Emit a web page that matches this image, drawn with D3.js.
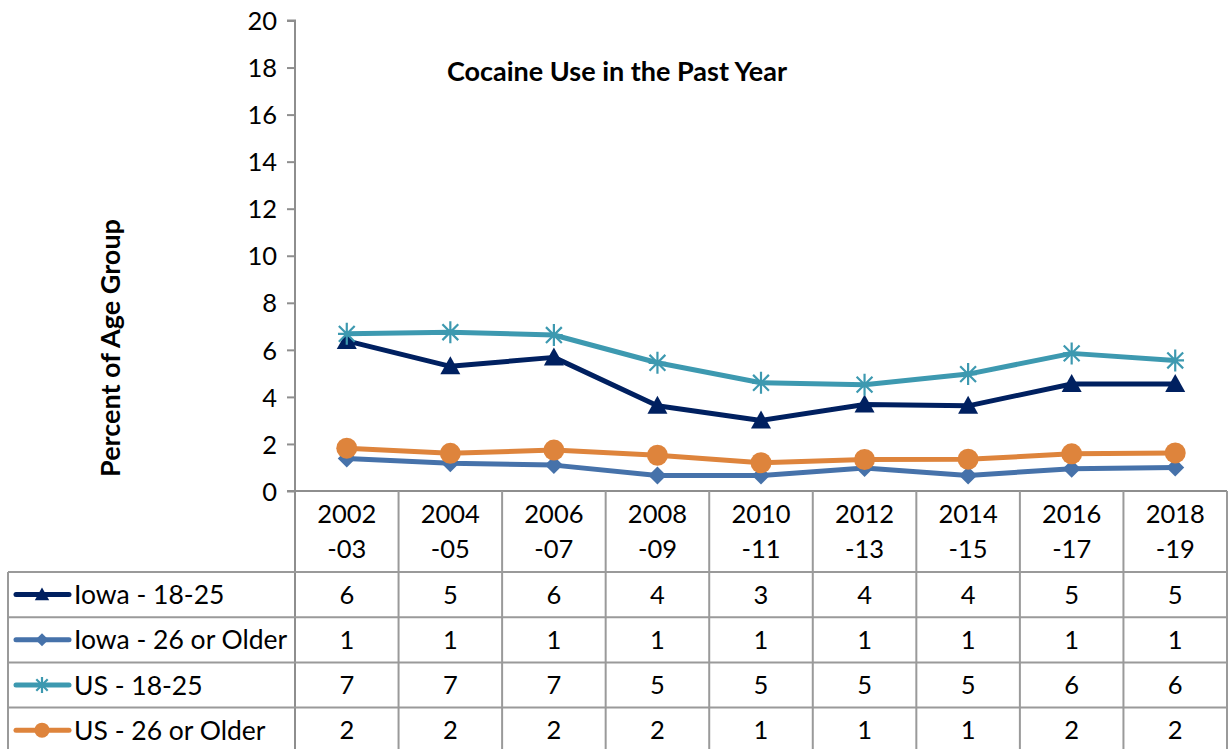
<!DOCTYPE html>
<html>
<head>
<meta charset="utf-8">
<script src="https://cdn.jsdelivr.net/npm/d3@7"></script>
<style>
  html, body { margin: 0; padding: 0; background: #fff; }
  svg { display: block; }
  text { font-family: Lato, "Open Sans", sans-serif; fill: #000; }
</style>
</head>
<body>
<svg id="chart" width="1228" height="749"></svg>
<script>
// ---- data ----
const categoriesTop = ["2002", "2004", "2006", "2008", "2010", "2012", "2014", "2016", "2018"];
const categoriesBottom = ["-03", "-05", "-07", "-09", "-11", "-13", "-15", "-17", "-19"];
const seriesNames = ["Iowa - 18-25", "Iowa - 26 or Older", "US - 18-25", "US - 26 or Older"];
const iowa1825 = [6.38, 5.3, 5.68, 3.62, 3.0, 3.68, 3.62, 4.55, 4.55];
const iowa26 = [1.38, 1.18, 1.1, 0.66, 0.66, 0.98, 0.66, 0.95, 1.0];
const us1825 = [6.68, 6.75, 6.63, 5.45, 4.6, 4.52, 4.97, 5.85, 5.55];
const us26 = [1.82, 1.6, 1.74, 1.52, 1.2, 1.34, 1.35, 1.58, 1.62];
const tableIowa1825 = [6, 5, 6, 4, 3, 4, 4, 5, 5];
const tableIowa26 = [1, 1, 1, 1, 1, 1, 1, 1, 1];
const tableUs1825 = [7, 7, 7, 5, 5, 5, 5, 6, 6];
const tableUs26 = [2, 2, 2, 2, 1, 1, 1, 2, 2];
const yTicks = [0, 2, 4, 6, 8, 10, 12, 14, 16, 18, 20];
const chartTitle = "Cocaine Use in the Past Year";
const yTitle = "Percent of Age Group";

// ---- styles ----
const colors = ["#002060", "#4672aa", "#3d99b0", "#de843c"];
const markers = ["triangle", "diamond", "star", "circle"];
const seriesValues = [iowa1825, iowa26, us1825, us26];
const tableValues = [tableIowa1825, tableIowa26, tableUs1825, tableUs26];
const gridColor = "#8e8e8e";
const numSize = 25.5, labelSize = 26.5, titleSize = 27;

const svg = d3.select("#chart");
const W = 1228, H = 749;
const plotLeft = 295, plotRight = 1227, plotTop = 20.5, plotBottom = 491;
const tableLeft = 8;
const headerBottom = 572;
const rowH = 45.2;

const x = d3.scaleBand().domain(d3.range(categoriesTop.length)).range([plotLeft, plotRight]).padding(0);
const y = d3.scaleLinear().domain([0, 20]).range([plotBottom, plotTop]);
const cx = i => x(i) + x.bandwidth() / 2;

// ---- y axis ----
const yAxis = d3.axisLeft(y).tickValues(yTicks).tickSize(8).tickPadding(10).tickFormat(d3.format("d"));
const gy = svg.append("g").attr("transform", `translate(${plotLeft},0)`).call(yAxis);
gy.select(".domain").attr("stroke", gridColor).attr("stroke-width", 2).attr("d", `M-8,${plotTop}H0V${plotBottom}`);
gy.selectAll(".tick line").attr("stroke", gridColor).attr("stroke-width", 2);
gy.selectAll(".tick text").attr("font-size", numSize).attr("font-family", "Lato, sans-serif").attr("fill", "#000").attr("dy", "0.36em");

// ---- titles ----
svg.append("text").attr("x", 617).attr("y", 81).attr("text-anchor", "middle")
  .attr("font-size", titleSize).attr("font-weight", "bold").text(chartTitle);
svg.append("text").attr("transform", "translate(120,348) rotate(-90)").attr("text-anchor", "middle")
  .attr("font-size", titleSize).attr("font-weight", "bold").text(yTitle);

// ---- table grid ----
const tg = svg.append("g").attr("stroke", "#9a9a9a").attr("stroke-width", 2).attr("fill", "none");
tg.append("line").attr("x1", plotLeft - 8).attr("x2", plotRight).attr("y1", plotBottom).attr("y2", plotBottom).attr("stroke", gridColor);
const bounds = d3.range(categoriesTop.length + 1).map(i => i < categoriesTop.length ? x(i) : plotRight);
bounds.forEach((bx, i) => {
  tg.append("line").attr("x1", bx).attr("x2", bx).attr("y1", plotBottom).attr("y2", H + 5)
    .attr("stroke", i === 0 ? gridColor : "#9a9a9a");
});
tg.append("line").attr("x1", tableLeft).attr("x2", tableLeft).attr("y1", headerBottom).attr("y2", H + 5);
for (let r = 0; r <= seriesNames.length; r++) {
  const yy = headerBottom + r * rowH;
  tg.append("line").attr("x1", tableLeft).attr("x2", plotRight).attr("y1", yy).attr("y2", yy);
}

// header text
const hg = svg.append("g");
categoriesTop.forEach((c, i) => {
  hg.append("text").attr("x", cx(i)).attr("y", 523).attr("text-anchor", "middle").attr("font-size", numSize).text(c);
  hg.append("text").attr("x", cx(i)).attr("y", 558).attr("text-anchor", "middle").attr("font-size", numSize).text(categoriesBottom[i]);
});

// ---- markers ----
function drawMarker(g, type, color, px, py, s) {
  if (type === "triangle") {
    g.append("path").attr("d", `M${px},${py - 10 * s}L${px + 10 * s},${py + 8 * s}L${px - 10 * s},${py + 8 * s}Z`).attr("fill", color);
  } else if (type === "diamond") {
    g.append("path").attr("d", `M${px},${py - 9 * s}L${px + 9 * s},${py}L${px},${py + 9 * s}L${px - 9 * s},${py}Z`).attr("fill", color);
  } else if (type === "circle") {
    g.append("circle").attr("cx", px).attr("cy", py).attr("r", 10.5 * s).attr("fill", color);
  } else if (type === "star") {
    const r = 11 * s, d = r * 0.72;
    g.append("path").attr("d",
      `M${px},${py - r}V${py + r}M${px - d},${py - d}L${px + d},${py + d}M${px - d},${py + d}L${px + d},${py - d}M${px - r * 0.8},${py}H${px + r * 0.8}`)
      .attr("stroke", color).attr("stroke-width", 2.2).attr("fill", "none");
  }
}

// ---- series ----
const line = d3.line().x((d, i) => cx(i)).y(d => y(d));
seriesValues.forEach((vals, k) => {
  const g = svg.append("g");
  g.append("path").datum(vals).attr("d", line).attr("fill", "none").attr("stroke", colors[k])
    .attr("stroke-width", 5).attr("stroke-linejoin", "round").attr("stroke-linecap", "round");
  vals.forEach((v, i) => drawMarker(g, markers[k], colors[k], cx(i), y(v), 1));
});

// ---- table rows ----
seriesNames.forEach((name, k) => {
  const top = headerBottom + k * rowH;
  const mid = top + rowH / 2;
  const g = svg.append("g");
  g.append("line").attr("x1", 16).attr("x2", 69).attr("y1", mid).attr("y2", mid)
    .attr("stroke", colors[k]).attr("stroke-width", 5).attr("stroke-linecap", "round");
  drawMarker(g, markers[k], colors[k], 42, mid, 0.72);
  g.append("text").attr("x", 74).attr("y", mid).attr("dy", "0.36em").attr("font-size", labelSize).text(name);
  tableValues[k].forEach((v, i) => {
    g.append("text").attr("x", cx(i)).attr("y", mid).attr("dy", "0.36em").attr("text-anchor", "middle")
      .attr("font-size", numSize).text(v);
  });
});
</script>
</body>
</html>
